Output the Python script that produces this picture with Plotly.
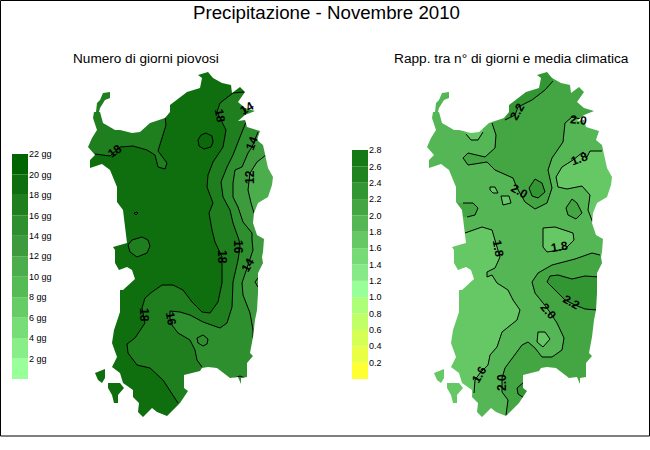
import plotly.graph_objects as go

coast = [(198,75),(208,72),(213,78),(222,83),(231,85),(232,93),(240,87),(245,92),(238,102),(245,108),(255,111),
         (245,115),(238,121),(245,120),(247,127),(260,131),(257,140),(263,145),(266,157),(268,168),(273,177),(272,185),
         (268,197),(258,203),(254,213),(253,223),(257,235),(264,239),(263,252),(262,257),(263,263),(258,273),(258,293),
         (257,310),(255,320),(253,337),(250,353),(253,356),(247,363),(247,377),(241,378),(241,384),(238,377),(230,378),
         (217,368),(208,367),(202,368),(200,371),(184,375),(184,388),(188,391),(180,403),(167,416),(157,412),(152,408),
         (143,417),(138,412),(139,403),(133,397),(133,390),(123,383),(120,373),(112,367),(117,357),(112,343),(114,330),
         (120,312),(120,290),(123,290),(132,282),(135,279),(132,270),(127,267),(119,270),(115,263),(115,250),(113,247),
         (127,243),(124,220),(123,210),(117,202),(117,187),(110,170),(102,164),(90,168),(90,160),(95,155),(88,147),
         (92,138),(97,130),(93,118),(94,112),(100,112),(103,123),(115,130),(120,130),(132,133),(140,132),(150,123),
         (165,118),(170,112),(170,105),(187,92),(200,88),(202,78)]
asinara = [(103,93),(110,92),(110,98),(105,100),(100,108),(99,112),(96,112),(97,103),(100,100)]
san_pietro = [(95,373),(105,369),(105,378),(102,383),(98,380)]
sant_antioco = [(108,383),(120,383),(124,388),(118,395),(118,403),(114,403),(112,395),(108,388)]
right_offset = 339

# left map: contours
l18_nw = [(165,117),(166,125),(162,138),(158,151),(167,163),(165,169),(158,167),(155,155),(147,150),(133,146),(120,147),(110,156),(95,154)]
l18_east = [(245,92),(233,93),(220,103),(217,112),(222,122),(226,130),(223,147),(213,162),(208,175),(207,187),(213,203),(209,213),
            (212,230),(215,242),(222,257),(222,283),(218,302),(210,313),(202,312),(192,302),(183,290),(173,285),(162,285),(152,292),
            (145,298),(142,308),(145,323),(135,338),(127,344),(128,353),(137,365),(150,368),(163,380),(178,403)]
l16_east = [(245,107),(246,122),(240,137),(233,155),(227,167),(221,182),(223,197),(230,210),(233,223),(239,240),(240,247),(238,260),
            (233,282),(232,307),(227,323),(220,328),(203,322),(190,315),(180,312),(170,311),(170,319),(172,325),(178,333),(190,340),
            (195,350),(197,360),(202,367)]
l14_east = [(258,132),(252,147),(248,153),(242,167),(235,170),(233,183),(233,197),(238,207),(243,222),(252,233),(252,240),(253,250),
            (248,265),(242,283),(243,295),(250,313),(253,330),(253,338)]
l12_east = [(266,155),(257,162),(250,173),(248,190),(251,203),(254,213)]
l20_spot = [(206,133),(212,136),(213,142),(211,147),(204,149),(199,146),(198,140),(201,135),(206,133)]
l18_spot = [(142,237),(148,240),(150,246),(147,253),(137,257),(130,252),(128,245),(132,240),(142,237)]
l18_dot = [(134,213),(137,212),(138,213),(136,215),(134,213)]
l14_spot = [(203,335),(208,339),(207,344),(203,346),(198,343),(197,338),(203,335)]
l14_lobe = [(258,278),(255,282),(258,287)]
l14_south = [(232,379),(240,376),(245,378)]

left_colors = ["#99ff99", "#88ee88", "#77dd77", "#66cc66", "#55bb55", "#4cad4c", "#3d9a3d", "#2e8f2e", "#1f7f1f", "#0f6f0f", "#006400"]
left_ticks = [2, 4, 6, 8, 10, 12, 14, 16, 18, 20, 22]
left_labels = ["2 gg", "4 gg", "6 gg", "8 gg", "10 gg", "12 gg", "14 gg", "16 gg", "18 gg", "20 gg", "22 gg"]

label_left_x = [115, 220, 252, 250, 238, 222, 248, 144, 171, 247]
label_left_y = [151, 116, 143, 177, 247, 257, 265, 315, 319, 108]
label_left_text = ["18", "18", "14", "12", "16", "18", "14", "18", "16", "14"]
label_left_angle = [-35, 80, -70, -90, 90, 90, -60, 90, 80, -30]

# right map: contours
r20_north = [(492,123),(496,135),(495,148),(485,157),(468,153),(463,158),(468,165),(487,162),(495,170),(513,178),(517,188),(525,202),
             (535,209),(547,203),(552,188),(548,170),(552,158),(563,142),(565,123),(572,117),(585,120)]
r22_north = [(553,81),(545,90),(532,100),(518,107),(515,115),(505,120)]
r18_ne = [(602,151),(590,151),(587,157),(583,152),(573,160),(562,167),(556,177),(558,187),(567,189),(582,186),(590,195),(588,210),(593,223),(603,237)]
r20_east_spot = [(572,199),(577,203),(582,213),(576,219),(568,215),(566,208),(572,199)]
r22_mid_spot = [(535,179),(542,183),(545,192),(538,198),(532,196),(529,188),(535,179)]
r20_west = [(463,203),(473,203),(478,208),(475,215),(467,217)]
r18_nw = [(466,134),(471,140),(478,140),(483,132)]
r18_dot1 = [(490,187),(495,187),(498,193),(493,193),(490,190),(490,187)]
r18_dot2 = [(501,196),(509,196),(511,203),(503,205),(501,196)]
r18_oval = [(543,228),(555,227),(573,233),(574,240),(565,249),(547,252),(543,247),(543,228)]
r18_west = [(465,233),(482,227),(492,230),(500,257),(495,268),(487,272),(487,277),(492,275),(497,283),(508,290),(513,300),(520,310),
            (517,320),(502,332),(497,347),(490,355),(488,365),(480,373),(475,380),(474,393)]
r20_south = [(600,255),(592,253),(575,259),(552,265),(538,273),(532,282),(535,293),(547,308),(557,323),(564,338),(562,350),(552,357),
             (542,357),(535,348),(528,342),(522,345),(505,368),(502,378),(502,392),(508,400),(506,415)]
r18_spot = [(538,332),(545,332),(550,339),(543,347),(537,342),(538,332)]
r22_se = [(599,277),(585,276),(572,279),(558,275),(550,276),(547,282),(555,290),(565,300),(575,305),(585,309),(597,310)]
r22_tip = [(524,382),(517,388),(518,394),(524,398)]

right_colors = ["#ffff33", "#e9ff44", "#d5ff55", "#c1ff66", "#adff77", "#99ff99", "#87e987", "#76db76", "#65c865", "#54b654", "#43a643", "#329632", "#208320", "#157a15"]
right_ticks = [0.2, 0.4, 0.6, 0.8, 1.0, 1.2, 1.4, 1.6, 1.8, 2.0, 2.2, 2.4, 2.6, 2.8]

label_right_x = [517, 578, 579, 519, 559, 498, 571, 548, 479, 502]
label_right_y = [112, 120, 159, 191, 247, 248, 302, 311, 375, 383]
label_right_text = ["2.2", "2.0", "1.8", "2.0", "1.8", "1.8", "2.2", "2.0", "1.6", "2.0"]
label_right_angle = [-60, 5, -20, 30, -10, 80, 30, 50, -60, -90]

fig = go.Figure()


def area(points, color):
    fig.add_trace(go.Scatter(x=[p[0] for p in points], y=[p[1] for p in points], mode="lines", fill="toself",
                             fillcolor=color, line=dict(width=0), hoverinfo="skip", showlegend=False))


def contour(points):
    fig.add_trace(go.Scatter(x=[p[0] for p in points], y=[p[1] for p in points], mode="lines",
                             line=dict(color="black", width=1), hoverinfo="skip", showlegend=False))


def sea_mask(box, dx):
    # white box with the land cut out of it, so the areas stop at the coast
    x0, y0, x1, y1 = box
    start = (x0, y0)
    path = [start, (x0, y1), (x1, y1), (x1, y0), start]
    for land in (coast, asinara, san_pietro, sant_antioco):
        moved = [(x + dx, y) for x, y in land]
        path += moved + [moved[0], start]
    area(path, "white")


# left map
area([(60, 67), (300, 67), (300, 428), (60, 428)], "#0f6f0f")
area(l18_nw + [(70, 154), (70, 85), (165, 85)], "#1f7f1f")
area(l18_spot, "#1f7f1f")
area(l20_spot, "#0a690a")
area(l18_east + [(200, 420), (290, 420), (290, 92)], "#1f7f1f")
area(l16_east + [(205, 420), (290, 420), (290, 107)], "#2e8f2e")
area(l14_east + [(290, 338), (290, 132)], "#3d9a3d")
area(l12_east + [(290, 213), (290, 155)], "#4cad4c")
for line in (l18_nw, l18_east, l16_east, l14_east, l12_east, l20_spot, l18_spot, l18_dot, l14_spot, l14_lobe, l14_south):
    contour(line)
sea_mask((56, 63, 304, 432), 0)

# right map
area([(400, 67), (640, 67), (640, 428), (400, 428)], "#54b654")
area(r20_north + [(600, 120), (600, 67), (492, 67)], "#43a643")
area(r22_north + [(495, 110), (495, 67), (553, 67)], "#329632")
area(r18_ne + [(640, 237), (640, 151)], "#65c865")
area(r20_east_spot, "#43a643")
area(r22_mid_spot, "#329632")
area(r20_west + [(455, 217), (455, 203)], "#43a643")
area(r18_nw + [(483, 125), (466, 125)], "#65c865")
area(r18_dot1, "#65c865")
area(r18_dot2, "#65c865")
area(r18_oval, "#65c865")
area(r18_west + [(470, 400), (462, 410), (430, 428), (430, 233)], "#65c865")
area(r20_south + [(506, 428), (640, 428), (640, 255)], "#43a643")
area(r18_spot, "#65c865")
area(r22_se + [(640, 310), (640, 277)], "#329632")
area(r22_tip + [(540, 398), (540, 382)], "#329632")
for line in (r20_north, r22_north, r18_ne, r20_east_spot, r22_mid_spot, r20_west, r18_nw, r18_dot1, r18_dot2, r18_oval,
             r18_west, r20_south, r18_spot, r22_se, r22_tip):
    contour(line)
sea_mask((396, 63, 644, 432), right_offset)

# colour keys, one band per tick
fig.add_trace(go.Bar(x=[0.5] * len(left_ticks), y=[2] * len(left_ticks), base=[t - 2 for t in left_ticks], width=1,
                     marker=dict(color=left_colors, line=dict(width=0)), xaxis="x2", yaxis="y2", hoverinfo="skip", showlegend=False))
fig.add_trace(go.Bar(x=[0.5] * len(right_ticks), y=[0.2] * len(right_ticks), base=[t - 0.2 for t in right_ticks], width=1,
                     marker=dict(color=right_colors, line=dict(width=0)), xaxis="x3", yaxis="y3", hoverinfo="skip", showlegend=False))

for xs, ys, texts, angles in ((label_left_x, label_left_y, label_left_text, label_left_angle),
                              (label_right_x, label_right_y, label_right_text, label_right_angle)):
    for x, y, text, angle in zip(xs, ys, texts, angles):
        fig.add_annotation(x=x, y=y, text=f"<b>{text}</b>", textangle=angle, showarrow=False,
                           font=dict(family="Liberation Sans", size=12, color="black"))

fig.add_annotation(x=326, y=12, text="Precipitazione - Novembre 2010", showarrow=False, font=dict(family="Liberation Sans", size=18.7, color="black"))
fig.add_annotation(x=146, y=58, text="Numero di giorni piovosi", showarrow=False, font=dict(family="Liberation Sans", size=13.6, color="black"))
fig.add_annotation(x=511, y=58, text="Rapp. tra n° di giorni e media climatica", showarrow=False, font=dict(family="Liberation Sans", size=13.7, color="black"))

hidden = dict(visible=False, showgrid=False, zeroline=False)
key_y = dict(showgrid=False, zeroline=False, showline=False, ticks="", side="right", tickfont=dict(family="Liberation Sans", size=9, color="black"))

fig.update_layout(
    width=650, height=450, margin=dict(l=0, r=0, t=0, b=0, autoexpand=False),
    paper_bgcolor="white", plot_bgcolor="white", barmode="overlay", showlegend=False,
    xaxis=dict(range=[0, 650], domain=[0, 1], **hidden),
    yaxis=dict(range=[450, 0], domain=[0, 1], **hidden),
    xaxis2=dict(range=[0, 1], domain=[12 / 650, 28 / 650], anchor="y2", **hidden),
    yaxis2=dict(range=[0, 22], domain=[71 / 450, 296 / 450], anchor="x2", tickvals=left_ticks, ticktext=left_labels, **key_y),
    xaxis3=dict(range=[0, 1], domain=[352 / 650, 368 / 650], anchor="y3", **hidden),
    yaxis3=dict(range=[0, 2.8], domain=[71 / 450, 300 / 450], anchor="x3", tickvals=right_ticks, tickformat=".1f", **key_y),
    shapes=[dict(type="rect", xref="x", yref="y", x0=0.5, y0=0.5, x1=649.5, y1=436, line=dict(color="black", width=1))],
)

# the browser's default body margin would push the page off by 8 px
fig.write_html("out.html", config={"displayModeBar": False},
               post_script="document.body.style.margin='0';document.documentElement.style.overflow='hidden';")
